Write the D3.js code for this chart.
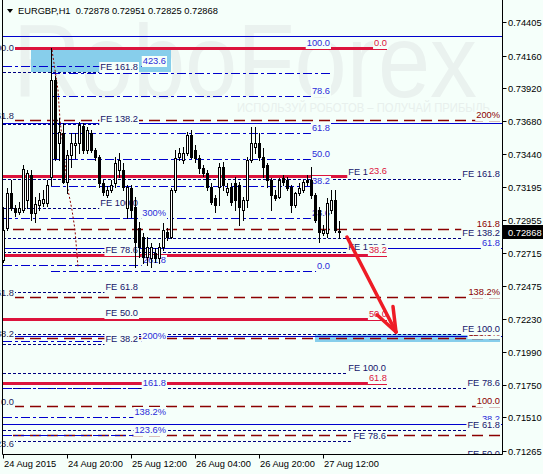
<!DOCTYPE html>
<html>
<head>
<meta charset="utf-8">
<script src="https://cdn.jsdelivr.net/npm/d3@7"></script>
<style>
html,body{margin:0;padding:0;background:#F5FFFA;}
svg{display:block;}
svg text{font-family:"Liberation Sans",Arial,sans-serif;font-size:9.3px;}
</style>
</head>
<body>
<svg id="chart" width="543" height="474"></svg>
<script>
// ================= DATA =================
const symbol = "EURGBP,H1";
const quote = [0.72878, 0.72951, 0.72825, 0.72868];
const watermark = ["RoboForex", "ИСПОЛЬЗУЙ РОБОТОВ – ПОЛУЧАЙ ПРИБЫЛЬ"];

// H1 candles, bar 0 = 24 Aug 2015 04:00
const opens = [0.72663,0.72897,0.73154,0.73044,0.73015,0.73029,0.73103,0.73286,0.73007,0.73066,
0.73081,0.73081,0.73271,0.73982,0.73520,0.73594,0.73234,0.73432,0.73506,0.73520,
0.73645,0.73469,0.73594,0.73469,0.73418,0.73227,0.73139,0.73176,0.73227,0.73322,
0.73322,0.73044,0.73190,0.73051,0.72897,0.72831,0.72685,0.72677,0.72714,0.72677,
0.72758,0.72868,0.72831,0.73176,0.73418,0.73396,0.73447,0.73579,0.73469,0.73410,
0.73337,0.73300,0.73198,0.73117,0.73198,0.73344,0.73161,0.73198,0.73227,0.73212,
0.73029,0.73103,0.73396,0.73491,0.73520,0.73418,0.73359,0.73249,0.73139,0.73125,
0.73264,0.73249,0.73198,0.73066,0.73154,0.73176,0.73249,0.73249,0.73139,0.73029,
0.72861,0.72861,0.73029,0.73103,0.72878];
const highs = [0.73051,0.73190,0.73249,0.73066,0.73088,0.73359,0.73322,0.73322,0.73125,0.73154,
0.73176,0.73249,0.74217,0.74011,0.73704,0.73667,0.73469,0.73594,0.73594,0.73674,
0.73667,0.73638,0.73616,0.73484,0.73432,0.73249,0.73205,0.73249,0.73418,0.73447,
0.73374,0.73212,0.73212,0.73125,0.72941,0.72861,0.72831,0.72787,0.72751,0.72787,
0.72934,0.72897,0.73190,0.73469,0.73484,0.73491,0.73601,0.73616,0.73506,0.73432,
0.73359,0.73322,0.73227,0.73139,0.73374,0.73381,0.73227,0.73227,0.73271,0.73234,
0.73125,0.73418,0.73638,0.73638,0.73594,0.73484,0.73374,0.73264,0.73176,0.73264,
0.73286,0.73271,0.73212,0.73161,0.73227,0.73249,0.73286,0.73344,0.73154,0.73051,
0.72919,0.73117,0.73176,0.73176,0.72951];
const lows = [0.72648,0.72883,0.73029,0.72985,0.73000,0.73015,0.73044,0.72956,0.72941,0.73029,
0.73059,0.73059,0.73212,0.73396,0.73396,0.73227,0.73154,0.73344,0.73410,0.73447,
0.73447,0.73447,0.73454,0.73396,0.73198,0.73139,0.73125,0.73161,0.73198,0.73271,
0.73176,0.72971,0.72978,0.72611,0.72685,0.72641,0.72626,0.72611,0.72648,0.72641,
0.72736,0.72809,0.72824,0.73161,0.73396,0.73374,0.73432,0.73410,0.73381,0.73300,
0.73278,0.73176,0.73073,0.73015,0.73066,0.73176,0.73139,0.73066,0.73029,0.72919,
0.72956,0.73051,0.73381,0.73447,0.73396,0.73271,0.73198,0.73029,0.73103,0.73117,
0.73212,0.73176,0.73015,0.73051,0.73139,0.73161,0.73212,0.73117,0.72941,0.72795,
0.72846,0.72831,0.73007,0.72868,0.72825];
const closes = [0.72883,0.73154,0.73044,0.73015,0.73044,0.73330,0.73300,0.73007,0.73073,0.73103,
0.73110,0.73212,0.73982,0.73410,0.73601,0.73234,0.73432,0.73520,0.73520,0.73652,
0.73469,0.73616,0.73469,0.73418,0.73227,0.73161,0.73176,0.73212,0.73374,0.73396,
0.73198,0.73198,0.73029,0.72795,0.72758,0.72685,0.72758,0.72758,0.72677,0.72758,
0.72883,0.72831,0.73176,0.73410,0.73447,0.73447,0.73579,0.73418,0.73410,0.73337,
0.73300,0.73198,0.73088,0.73066,0.73344,0.73212,0.73190,0.73088,0.73103,0.73051,
0.73103,0.73396,0.73520,0.73520,0.73418,0.73344,0.73249,0.73139,0.73117,0.73249,
0.73234,0.73190,0.73066,0.73154,0.73190,0.73234,0.73234,0.73139,0.72956,0.72868,
0.72883,0.73081,0.73103,0.72883,0.72868];

// axis ticks
const priceTicks = [0.74405,0.74160,0.73920,0.73680,0.73440,0.73195,0.72955,0.72715,0.72475,0.72230,0.71990,0.71750,0.71510,0.71265];
const timeTickBars = [0, 16, 32, 48, 64, 80];
const timeTickLabels = ["24 Aug 2015","24 Aug 20:00","25 Aug 12:00","26 Aug 04:00","26 Aug 20:00","27 Aug 12:00"];

// Fibonacci retracement (blue dash-dot)
const retrLevels = [100, 88.6, 78.6, 61.8, 50, 38.2, 23.6, 0];
const retrLabels = ["100.0", "", "78.6", "61.8", "50.0", "38.2", "23.6", "0.0"];
const retrPrices = [0.72582, 0.74217];   // level 0, level 100
const retrBars = [12, 81.75];

// Fibonacci retracement (crimson)
const crimLevels = [0, 23.6, 38.2, 50, 61.8];
const crimLabels = ["0.0", "23.6", "38.2", "50.0", "61.8"];
const crimPrices = [0.74217, 0.70244];
const crimBars = [0, 96];

// Fibonacci expansions (navy dotted)
const fe1Levels = [161.8, 138.2, 100, 78.6, 61.8, 50, 38.2];
const fe1Prices = [0.71431, 0.73044];
const fe1Bars = [0, 33.75];
const fe2Levels = [161.8, 138.2, 100, 78.6, 61.8, 50];
const fe2Prices = [0.70282, 0.72120];
const fe2Bars = [0, 124.25];
const fe3Levels = [161.8, 138.2, 100, 78.6];
const fe3Prices = [0.69505, 0.71834];
const fe3Bars = [0, 95.75];

// Fibonacci extension (blue dash-dot, percent labels)
const extLevels = [423.6, 300, 261.8, 200, 161.8, 138.2, 123.6];
const extLabels = ["423.6", "300%", "261.8", "200%", "161.8", "138.2%", "123.6%"];
const extPrices = [0.70265, 0.71167];
const extBars = [0, 40.75];

// Fibonacci levels (blue solid)
const solidLevels = [78.6, 61.8, 50, 38.2];
const solidLabels = ["", "61.8", "", "38.2"];
const solidPrices = [0.69373, 0.74839];
const solidBars = [0, 124.25];
const topLinePrice = 0.74305;

// Fibonacci levels (dark red dashed): right-side labels on the lines, left-side labels cut by the edge
const redLevels = [161.8, 100, 61.8, 38.2, 0, -16.4];
const redRightLabels = ["200%", "161.8", "138.2%", "123.6%", "100.0", ""];
const redLeftLevels = [200, 161.8, 61.8, 38.2, 0, -23.6];
const redLeftLabels = ["200.0", "161.8", "61.8", "38.2", "0.0", "-23.6"];
const redPrices = [0.71593, 0.72889];
const redBars = [2.5, 124.25];

// zones
const zoneBars = [[7, 42], [78, 124.25]];
const zonePrices = [[0.74217, 0.74041], [0.72120, 0.72062]];

// dotted trend path and forecast arrow
const trendBars = [12.25, 13.75, 14.25, 16.25, 17.25, 18, 18.75];
const trendPrices = [0.74202, 0.73909, 0.73689, 0.73176, 0.73029, 0.72883, 0.72611];
const arrowBars = [86, 98.25];
const arrowPrices = [0.72831, 0.72135];

// ================= DRAW =================
const W = 543, H = 474, BG = "#F5FFFA";
const L = 3, R = 502, T = 0, B = 454;
const svg = d3.select("#chart");
const x = d3.scaleLinear().domain([0, 1]).range([3, 7]);
const y = d3.scaleLinear().domain([0.71265, 0.74405]).range([450.7, 22.3]);
const py = v => Math.round(y(v)) + 0.5;

svg.append("rect").attr("width", W).attr("height", H).attr("fill", BG);
const defs = svg.append("defs");
defs.append("clipPath").attr("id", "plotClip").append("rect")
  .attr("x", L).attr("y", T).attr("width", R - L).attr("height", B - T);
defs.append("clipPath").attr("id", "labelClip").append("rect")
  .attr("x", 0).attr("y", T).attr("width", R).attr("height", B - T);

const plot = svg.append("g").attr("clip-path", "url(#plotClip)");

// watermark
plot.append("text").attr("x", 13).attr("y", 97)
  .attr("textLength", 464).attr("lengthAdjust", "spacingAndGlyphs")
  .style("font-size", "104px").attr("fill", "#EAF2EF").text(watermark[0]);
plot.append("text").attr("x", 237).attr("y", 112)
  .attr("textLength", 253).attr("lengthAdjust", "spacingAndGlyphs")
  .style("font-size", "13.5px").attr("fill", "#E8F0ED").text(watermark[1]);

// zones
zoneBars.forEach((b, k) => {
  const y1 = Math.round(y(zonePrices[k][0])), y2 = Math.round(y(zonePrices[k][1]));
  plot.append("rect").attr("x", Math.round(x(b[0]))).attr("y", Math.min(y1, y2))
    .attr("width", Math.round(x(b[1]) - x(b[0]))).attr("height", Math.abs(y2 - y1))
    .attr("fill", "#87CEEB");
});

const styles = {
  dashdot: {stroke: "#0000CD", width: 1, dash: "9,3,3,3", label: "#2B2BD9"},
  crimson: {stroke: "#DC143C", width: 3, dash: null, label: "#DC143C"},
  dot: {stroke: "#000080", width: 1, dash: "3,2", label: "#15156B"},
  dash: {stroke: "#8B0000", width: 1.4, dash: "11,6", label: "#8B0000"},
  solid: {stroke: "#0000CD", width: 1, dash: null, label: "#2B2BD9"}
};

const lvl = (prices, l) => prices[0] + (prices[1] - prices[0]) * l / 100;
const feLabels = lv => lv.map(v => "FE " + v.toFixed(1));

const groups = [
  {key: "ext", levels: extLevels, labels: extLabels, prices: extPrices, bars: extBars, style: "dashdot", ray: false},
  {key: "fe1", levels: fe1Levels, labels: feLabels(fe1Levels), prices: fe1Prices, bars: fe1Bars, style: "dot", ray: false},
  {key: "solid", levels: solidLevels, labels: solidLabels, prices: solidPrices, bars: solidBars, style: "solid", ray: true},
  {key: "red", levels: redLevels, labels: redRightLabels, prices: redPrices, bars: redBars, style: "dash", ray: true},
  {key: "fe3", levels: fe3Levels, labels: feLabels(fe3Levels), prices: fe3Prices, bars: fe3Bars, style: "dot", ray: false},
  {key: "crim", levels: crimLevels, labels: crimLabels, prices: crimPrices, bars: crimBars, style: "crimson", ray: false},
  {key: "fe2", levels: fe2Levels, labels: feLabels(fe2Levels), prices: fe2Prices, bars: fe2Bars, style: "dot", ray: true},
  {key: "retr", levels: retrLevels, labels: retrLabels, prices: retrPrices, bars: retrBars, style: "dashdot", ray: false}
];

// lines (thin dashed first, thick crimson on top)
const lineOrder = ["red", "fe1", "fe2", "fe3", "ext", "retr", "solid", "crim"];
const lineLayer = plot.append("g");
lineLayer.append("line").attr("x1", L).attr("x2", R)
  .attr("y1", py(topLinePrice)).attr("y2", py(topLinePrice))
  .attr("stroke", styles.solid.stroke).attr("stroke-width", 1);
lineOrder.forEach(k => {
  const gr = groups.find(g => g.key === k);
  const st = styles[gr.style];
  gr.levels.forEach(l => {
    const yy = py(lvl(gr.prices, l));
    lineLayer.append("line")
      .attr("x1", Math.round(x(gr.bars[0]))).attr("x2", gr.ray ? R : Math.round(x(gr.bars[1])))
      .attr("y1", yy).attr("y2", yy)
      .attr("stroke", st.stroke).attr("stroke-width", st.width)
      .attr("stroke-dasharray", st.dash);
  });
});

// dotted trend path
plot.append("path")
  .attr("d", d3.line().x(d => x(d)).y((d, i) => y(trendPrices[i]))(trendBars))
  .attr("fill", "none").attr("stroke", "#8B0000").attr("stroke-width", 1)
  .attr("stroke-dasharray", "2,2");

// labels with background boxes
const labelLayer = svg.append("g").attr("clip-path", "url(#labelClip)");
function addLabel(text, xEnd, baseline, color) {
  if (!text) return;
  const t = labelLayer.append("text").attr("x", xEnd).attr("y", baseline)
    .attr("text-anchor", "end").attr("fill", color).text(text);
  const w = t.node().getComputedTextLength();
  labelLayer.insert("rect", () => t.node())
    .attr("x", xEnd - w - 1).attr("y", baseline - 8)
    .attr("width", w + 2).attr("height", 11).attr("fill", BG);
}
groups.forEach(gr => {
  const st = styles[gr.style];
  gr.levels.forEach((l, i) => {
    const yy = Math.round(y(lvl(gr.prices, l)));
    addLabel(gr.labels[i], Math.round(x(gr.bars[1])), yy - 2, st.label);
  });
});
redLeftLevels.forEach((l, i) => {
  const yy = Math.round(y(lvl(redPrices, l)));
  addLabel(redLeftLabels[i], Math.round(x(redBars[0])) + 1, yy - 1, "#1E1E5A");
});

// candles
const candleLayer = svg.append("g").attr("clip-path", "url(#plotClip)");
opens.forEach((o, i) => {
  const c = closes[i], cx = Math.round(x(i));
  const yt = Math.round(y(Math.max(o, c))), yb = Math.round(y(Math.min(o, c)));
  candleLayer.append("line").attr("x1", cx + 0.5).attr("x2", cx + 0.5)
    .attr("y1", Math.round(y(highs[i]))).attr("y2", Math.round(y(lows[i])) + 1)
    .attr("stroke", "#000").attr("stroke-width", 1);
  candleLayer.append("rect").attr("x", cx - 0.5).attr("y", yt + 0.5)
    .attr("width", 2).attr("height", Math.max(0, yb - yt))
    .attr("fill", c >= o ? "#FFFFFF" : "#000000").attr("stroke", "#000").attr("stroke-width", 1);
});

// forecast arrow
(function () {
  const x1 = x(arrowBars[0]), y1 = y(arrowPrices[0]), x2 = x(arrowBars[1]), y2 = y(arrowPrices[1]);
  const dx = x2 - x1, dy = y2 - y1, len = Math.hypot(dx, dy), ux = dx / len, uy = dy / len;
  const hl = 24, hw = 9;
  const bx = x2 - ux * hl, by = y2 - uy * hl;
  const a = candleLayer.append("g").attr("stroke", "#EE1C25").attr("stroke-width", 3.5)
    .attr("stroke-linecap", "round").attr("fill", "none");
  a.append("line").attr("x1", x1).attr("y1", y1).attr("x2", x2).attr("y2", y2);
  a.append("line").attr("x1", x2).attr("y1", y2).attr("x2", bx - uy * hw).attr("y2", by + ux * hw);
  a.append("line").attr("x1", x2).attr("y1", y2).attr("x2", bx + uy * hw).attr("y2", by - ux * hw);
})();

// frame
const frame = svg.append("g").attr("stroke", "#000").attr("stroke-width", 1).attr("fill", "none");
frame.append("path").attr("d", `M${L - 0.5},${T} V${B + 0.5} H${R + 0.5} V${T}`);

// price axis
priceTicks.forEach(v => {
  const yy = py(v);
  frame.append("line").attr("x1", R + 0.5).attr("x2", R + 4.5).attr("y1", yy).attr("y2", yy);
  svg.append("text").attr("x", 508).attr("y", yy + 3.5).attr("fill", "#000").text(v.toFixed(5));
});
const cy = py(quote[3]);
svg.append("rect").attr("x", R + 1).attr("y", cy - 7.5).attr("width", W - R - 1).attr("height", 14).attr("fill", "#000");
svg.append("text").attr("x", 508).attr("y", cy + 3.5).attr("fill", "#FFF").text(quote[3].toFixed(5));

// time axis
timeTickBars.forEach((b, i) => {
  const xx = Math.round(x(b)) + 0.5;
  frame.append("line").attr("x1", xx).attr("x2", xx).attr("y1", B + 0.5).attr("y2", B + 4.5);
  svg.append("text").attr("x", xx + 0.5).attr("y", 467).attr("fill", "#000").text(timeTickLabels[i]);
});

// title
svg.append("path").attr("d", "M7,9 L13,9 L10,13 Z").attr("fill", "#000");
svg.append("text").attr("x", 18).attr("y", 14).attr("fill", "#000")
  .attr("xml:space", "preserve")
  .text(symbol + "  " + quote.map(q => q.toFixed(5)).join(" "));
</script>
</body>
</html>
